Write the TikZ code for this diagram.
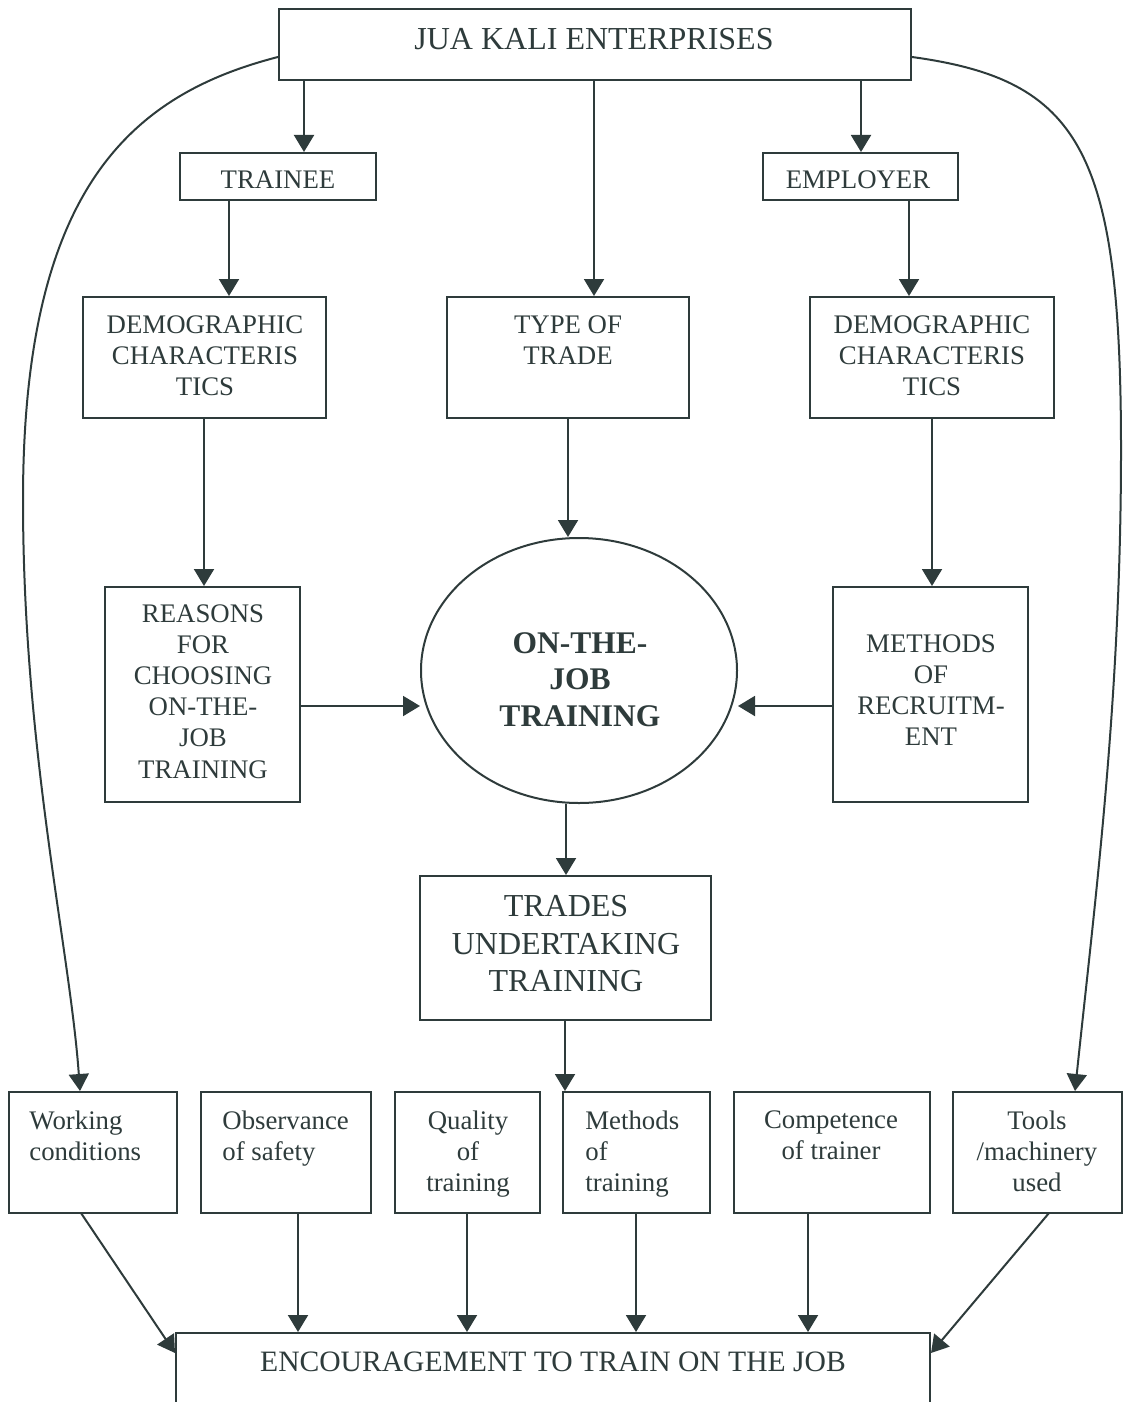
\documentclass[tikz,border=0pt]{standalone}
\usepackage{fontspec}
\setmainfont{Liberation Serif}
\usetikzlibrary{arrows.meta,shapes.geometric}
\definecolor{ink}{HTML}{2E3B3B}
\begin{document}
\begin{tikzpicture}[x=0.5pt,y=-0.5pt,
  box/.style={draw=ink, line width=1pt, rectangle, inner sep=0pt},
  oval/.style={draw=ink, line width=1pt, ellipse, inner sep=0pt},
  arr/.style={draw=ink, line width=1pt, -{Triangle[length=8.5pt,width=10pt]}},
  txt/.style={text=ink, inner sep=0pt, align=center, anchor=north, font=\fontsize{13.4}{15.6}\selectfont},
  ltxt/.style={txt, align=left, anchor=north west}]
\useasboundingbox (0,0) rectangle (1124,1402);
% helper coordinates
\coordinate (ax304) at (304,0);
\coordinate (ax861) at (861,0);
\coordinate (ax594) at (594,0);
\coordinate (ax229) at (229,0);
\coordinate (ax909) at (909,0);
\coordinate (ax204) at (204,0);
\coordinate (ax568) at (568,0);
\coordinate (ax932) at (932,0);
\coordinate (ax566) at (566,0);
\coordinate (ax565) at (565,0);
\coordinate (ax298) at (298,0);
\coordinate (ax467) at (467,0);
\coordinate (ax636) at (636,0);
\coordinate (ax808) at (808,0);
\coordinate (ax80) at (80,0);
\coordinate (ax1075) at (1075,0);
\coordinate (ay706) at (0,706);
\coordinate (ay57) at (0,57);
\coordinate (wcs) at (81,1213);
\coordinate (toolss) at (1049,1213);
\coordinate (encl) at (0,1353);
% boxes
\node[box, minimum width=316pt, minimum height=35.5pt] (jua) at (595,44.5) {};
\node[txt, font=\fontsize{16}{19}\selectfont] (juat) at (594,28) {JUA KALI ENTERPRISES};
\node[box, minimum width=98pt, minimum height=23.5pt] (trainee) at (278,176.5) {};
\node[txt] (traineet) at (278,170) {TRAINEE};
\node[box, minimum width=97.5pt, minimum height=23.5pt] (employer) at (860.5,176.5) {};
\node[txt] (employert) at (858,170) {EMPLOYER};
\node[box, minimum width=121.5pt, minimum height=60.5pt] (demol) at (204.5,357.5) {};
\node[txt] (demolt) at (205,315) {DEMOGRAPHIC\\CHARACTERIS\\TICS};
\node[box, minimum width=121pt, minimum height=60.5pt] (type) at (568,357.5) {};
\node[txt] (typet) at (568,315) {TYPE OF\\TRADE};
\node[box, minimum width=122pt, minimum height=60.5pt] (demor) at (932,357.5) {};
\node[txt] (demort) at (932,315) {DEMOGRAPHIC\\CHARACTERIS\\TICS};
\node[box, minimum width=97.5pt, minimum height=107.5pt] (reasons) at (202.5,694.5) {};
\node[txt] (reasonst) at (203,604) {REASONS\\FOR\\CHOOSING\\ON-THE-\\JOB\\TRAINING};
\node[box, minimum width=97.5pt, minimum height=107.5pt] (methods) at (930.5,694.5) {};
\node[txt] (methodst) at (931,634) {METHODS\\OF\\RECRUITM-\\ENT};
\node[oval, minimum width=158pt, minimum height=132.5pt] (ell) at (579,670.5) {};
\node[txt, font=\fontsize{15.75}{18.25}\selectfont\bfseries] (ellt) at (580,632) {ON-THE-\\JOB\\TRAINING};
\node[box, minimum width=145.5pt, minimum height=72pt] (trades) at (565.5,948) {};
\node[txt, font=\fontsize{16}{18.75}\selectfont] (tradest) at (566,895) {TRADES\\UNDERTAKING\\TRAINING};
% bottom row
\node[box, minimum width=84pt, minimum height=60.5pt] (wc) at (93,1152.5) {};
\node[ltxt] (wct) at (29,1110) {Working\\conditions};
\node[box, minimum width=85pt, minimum height=60.5pt] (obs) at (286,1152.5) {};
\node[ltxt] (obst) at (222,1110) {Observance\\of safety};
\node[box, minimum width=72.5pt, minimum height=60.5pt] (qual) at (467.5,1152.5) {};
\node[txt] (qualt) at (468,1110) {Quality\\of\\training};
\node[box, minimum width=73.5pt, minimum height=60.5pt] (meth) at (636.5,1152.5) {};
\node[ltxt] (metht) at (585,1110) {Methods\\of\\training};
\node[box, minimum width=98pt, minimum height=60.5pt] (comp) at (832,1152.5) {};
\node[txt] (compt) at (831,1110) {Competence\\of trainer};
\node[box, minimum width=84.5pt, minimum height=60.5pt] (tools) at (1037.5,1152.5) {};
\node[txt] (toolst) at (1037,1110) {Tools\\/machinery\\used};
\node[box, minimum width=377pt, minimum height=43.5pt] (enc) at (553,1376.5) {};
\node[txt, font=\fontsize{14.8}{17}\selectfont] (enct) at (553,1351) {ENCOURAGEMENT TO TRAIN ON THE JOB};
% connectors
\draw[arr] (jua.south -| ax304) -- (trainee.north -| ax304);
\draw[arr] (jua.south -| ax861) -- (employer.north -| ax861);
\draw[arr] (jua.south -| ax594) -- (type.north -| ax594);
\draw[arr] (trainee.south -| ax229) -- (demol.north -| ax229);
\draw[arr] (employer.south -| ax909) -- (demor.north -| ax909);
\draw[arr] (demol.south -| ax204) -- (reasons.north -| ax204);
\draw[arr] (type.south -| ax568) -- (ell.north -| ax568);
\draw[arr] (demor.south -| ax932) -- (methods.north -| ax932);
\draw[arr] (reasons.east |- ay706) -- (ell.west |- ay706);
\draw[arr] (methods.west |- ay706) -- (ell.east |- ay706);
\draw[arr] (ell.south -| ax566) -- (trades.north -| ax566);
\draw[arr] (trades.south -| ax565) -- (meth.north -| ax565);
\draw[arr] (obs.south -| ax298) -- (enc.north -| ax298);
\draw[arr] (qual.south -| ax467) -- (enc.north -| ax467);
\draw[arr] (meth.south -| ax636) -- (enc.north -| ax636);
\draw[arr] (comp.south -| ax808) -- (enc.north -| ax808);
\draw[arr] (wcs) -- (enc.west |- encl);
\draw[arr] (toolss) -- (enc.east |- encl);
\draw[arr] (jua.west |- ay57) .. controls (130,95) and (23,190) .. (23,500)
  .. controls (23,750) and (70,950) .. (wc.north -| ax80);
\draw[arr] (jua.east |- ay57) .. controls (1080,80) and (1121,150) .. (1121,450)
  .. controls (1121,700) and (1095,900) .. (tools.north -| ax1075);
\end{tikzpicture}
\end{document}
